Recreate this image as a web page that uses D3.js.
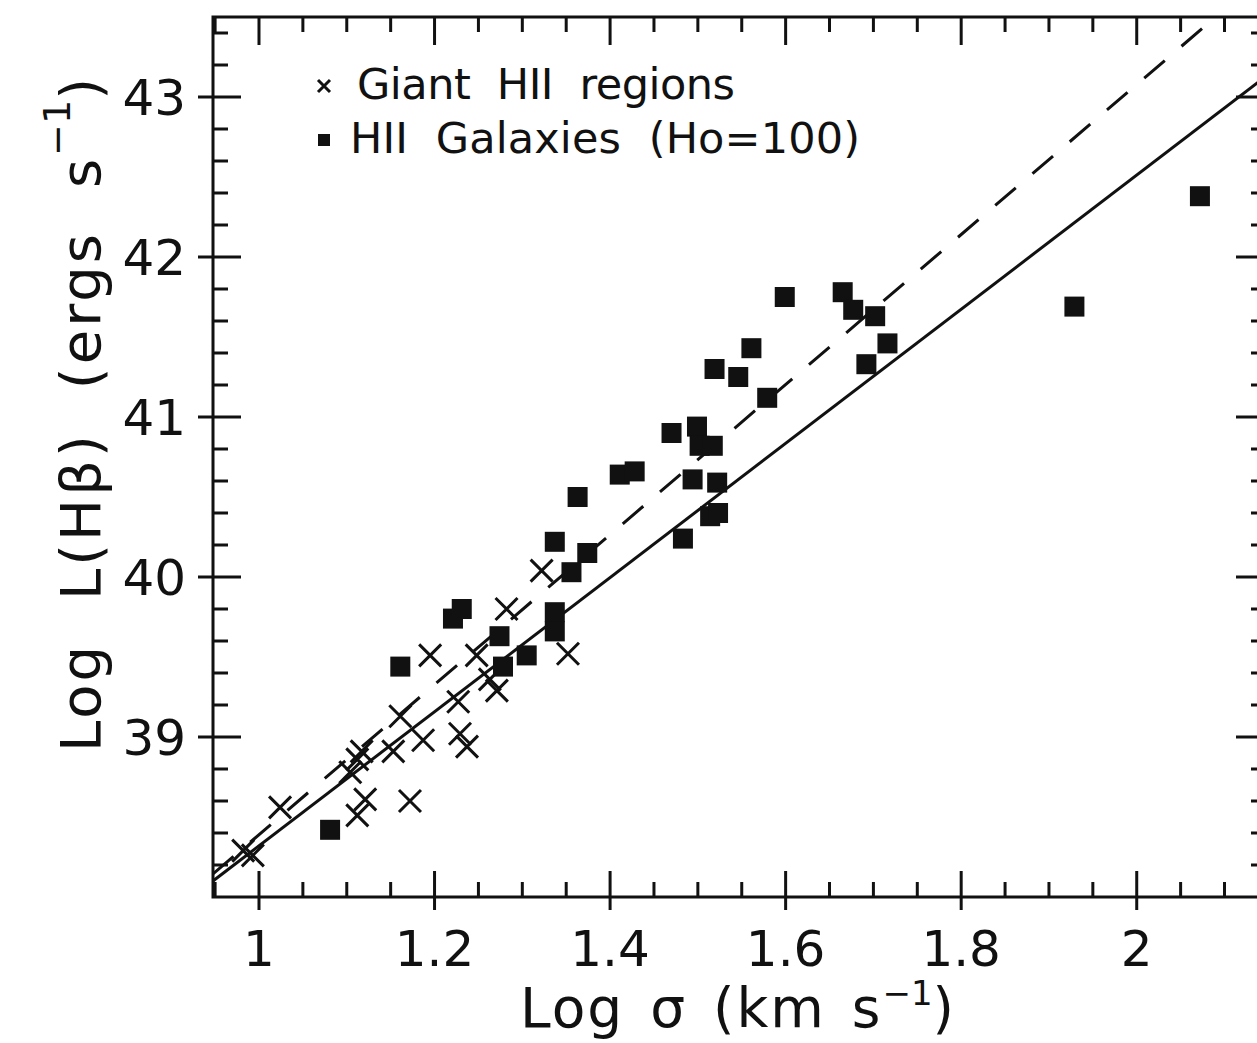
<!DOCTYPE html>
<html>
<head>
<meta charset="utf-8">
<script src="https://cdn.jsdelivr.net/npm/d3@7"></script>
<style>
  html, body { margin: 0; padding: 0; background: #fff; }
  svg { display: block; }
  text { font-family: "DejaVu Sans", "Liberation Sans", sans-serif; fill: #111; }
</style>
</head>
<body>
<svg id="chart" width="1257" height="1043"></svg>
<script>
// ---- data ----
const xTickValues = [1, 1.2, 1.4, 1.6, 1.8, 2];
const xTickLabels = ["1", "1.2", "1.4", "1.6", "1.8", "2"];
const yTickValues = [39, 40, 41, 42, 43];
const yTickLabels = ["39", "40", "41", "42", "43"];

// Giant HII regions (crosses): log sigma, log L(Hbeta)
const giantX = [0.982, 0.993, 1.024, 1.104, 1.117, 1.112, 1.121, 1.112, 1.172, 1.153, 1.161,
                1.187, 1.195, 1.227, 1.229, 1.237, 1.248, 1.263, 1.271, 1.282, 1.322, 1.352];
const giantY = [38.29, 38.26, 38.56, 38.78, 38.91, 38.86, 38.61, 38.51, 38.60, 38.91, 39.13,
                38.98, 39.51, 39.22, 39.02, 38.94, 39.51, 39.36, 39.29, 39.80, 40.04, 39.52];

// HII galaxies (filled squares)
const galX = [1.081, 1.161, 1.221, 1.231, 1.274, 1.278, 1.305, 1.337, 1.337, 1.337, 1.356,
              1.374, 1.363, 1.411, 1.428, 1.470, 1.499, 1.502, 1.517, 1.494, 1.522, 1.514,
              1.523, 1.483, 1.519, 1.546, 1.561, 1.579, 1.599, 1.665, 1.677, 1.702, 1.716,
              1.692, 1.929, 2.072];
const galY = [38.42, 39.44, 39.74, 39.80, 39.63, 39.44, 39.51, 39.78, 39.66, 40.22, 40.03,
              40.15, 40.50, 40.64, 40.66, 40.90, 40.94, 40.82, 40.82, 40.61, 40.59, 40.38,
              40.40, 40.24, 41.30, 41.25, 41.43, 41.12, 41.75, 41.78, 41.67, 41.63, 41.46,
              41.33, 41.69, 42.38];

// fitted relations: [x, y] end points
const solidFitX = [0.9476, 2.145];
const solidFitY = [38.10, 43.12];
const dashedFitX = [0.9476, 2.09];
const dashedFitY = [38.144, 43.5];

// ---- layout ----
const svg = d3.select("#chart");
const L = 213, R = 1264, T = 17, B = 897;
const x = d3.scaleLinear().domain([0.9476, 2.145]).range([L, R]);
const y = d3.scaleLinear().domain([38, 43.5]).range([B, T]);

const ink = "#111";
const g = svg.append("g");

svg.append("defs").append("clipPath").attr("id", "clip")
  .append("rect").attr("x", L).attr("y", T).attr("width", R - L).attr("height", B - T);

// frame
g.append("rect").attr("x", L).attr("y", T).attr("width", R - L).attr("height", B - T)
  .attr("fill", "none").attr("stroke", ink).attr("stroke-width", 3);

// ticks
const xMinor = d3.range(0.95, 2.15, 0.05).filter(v => v >= 0.9476 && v <= 2.145);
const yMinor = d3.range(38, 43.51, 0.2);
const isMajorX = v => xTickValues.some(t => Math.abs(t - v) < 1e-6);
const isMajorY = v => yTickValues.some(t => Math.abs(t - v) < 1e-6);

xMinor.forEach(v => {
  const major = isMajorX(v);
  const px = x(v);
  g.append("line").attr("x1", px).attr("x2", px)
    .attr("y1", B + (major ? 13 : 0)).attr("y2", B - (major ? 26 : 15))
    .attr("stroke", ink).attr("stroke-width", 3);
  g.append("line").attr("x1", px).attr("x2", px)
    .attr("y1", T).attr("y2", T + (major ? 28 : 15))
    .attr("stroke", ink).attr("stroke-width", 3);
});
yMinor.forEach(v => {
  const major = isMajorY(v);
  const py = y(v);
  if (v <= 38.01) return;
  g.append("line").attr("y1", py).attr("y2", py)
    .attr("x1", L - (major ? 15 : 0)).attr("x2", L + (major ? 28 : 15))
    .attr("stroke", ink).attr("stroke-width", 3);
  g.append("line").attr("y1", py).attr("y2", py)
    .attr("x1", R).attr("x2", R - (major ? 28 : 13))
    .attr("stroke", ink).attr("stroke-width", 3);
});

// tick labels
xTickValues.forEach((v, i) => {
  g.append("text").attr("x", x(v)).attr("y", 966).attr("text-anchor", "middle")
    .attr("font-size", 50).text(xTickLabels[i]);
});
yTickValues.forEach((v, i) => {
  g.append("text").attr("x", 186).attr("y", y(v) + 18).attr("text-anchor", "end")
    .attr("font-size", 50).text(yTickLabels[i]);
});

// stretch a title to a target length by word spacing
function fitWords(sel, target) {
  const node = sel.node();
  const len = node.getComputedTextLength();
  const spaces = (node.textContent.match(/ /g) || []).length;
  if (spaces > 0) sel.attr("word-spacing", Math.max(0, (target - len) / spaces));
}

// axis titles
const xt = g.append("text").attr("x", 520).attr("y", 1027)
  .attr("font-size", 55).attr("letter-spacing", 2).attr("xml:space", "preserve");
xt.append("tspan").text("Log σ (km s");
xt.append("tspan").attr("dy", -22).attr("font-size", 34).attr("letter-spacing", 0).text("−1");
xt.append("tspan").attr("dy", 22).text(")");
fitWords(xt, 436);

const yt = g.append("text").attr("transform", "translate(100,752) rotate(-90)")
  .attr("font-size", 56).attr("letter-spacing", 3).attr("xml:space", "preserve");
yt.append("tspan").text("Log L(Hβ) (ergs s");
yt.append("tspan").attr("dy", -30).attr("font-size", 38).attr("letter-spacing", 0).text("−1");
yt.append("tspan").attr("dy", 30).text(")");
fitWords(yt, 677);

// plot content
const plot = svg.append("g").attr("clip-path", "url(#clip)");

const line = d3.line().x(d => x(d[0])).y(d => y(d[1]));
plot.append("path").datum(d3.zip(solidFitX, solidFitY)).attr("d", line)
  .attr("fill", "none").attr("stroke", ink).attr("stroke-width", 3);
plot.append("path").datum(d3.zip(dashedFitX, dashedFitY)).attr("d", line)
  .attr("fill", "none").attr("stroke", ink).attr("stroke-width", 3)
  .attr("stroke-dasharray", "27,22");

// crosses
const cs = 11;
plot.selectAll("path.cross").data(d3.zip(giantX, giantY)).join("path")
  .attr("class", "cross")
  .attr("d", d => {
    const px = x(d[0]), py = y(d[1]);
    return `M${px - cs},${py - cs}L${px + cs},${py + cs}M${px - cs},${py + cs}L${px + cs},${py - cs}`;
  })
  .attr("stroke", ink).attr("stroke-width", 3).attr("fill", "none");

// squares
const sq = 20;
plot.selectAll("rect.gal").data(d3.zip(galX, galY)).join("rect")
  .attr("class", "gal")
  .attr("x", d => x(d[0]) - sq / 2).attr("y", d => y(d[1]) - sq / 2)
  .attr("width", sq).attr("height", sq).attr("fill", ink);

// legend
const lg = svg.append("g");
lg.append("path").attr("d", "M318,80L330,92M318,92L330,80").attr("stroke", ink).attr("stroke-width", 3);
lg.append("rect").attr("x", 318).attr("y", 134).attr("width", 12).attr("height", 12).attr("fill", ink);
lg.append("text").attr("x", 357).attr("y", 99).attr("font-size", 43).attr("xml:space", "preserve")
  .attr("textLength", 378).attr("lengthAdjust", "spacing")
  .text("Giant  HII  regions");
lg.append("text").attr("x", 350).attr("y", 153).attr("font-size", 43).attr("xml:space", "preserve")
  .attr("textLength", 510).attr("lengthAdjust", "spacing")
  .text("HII  Galaxies  (Ho=100)");
</script>
</body>
</html>
